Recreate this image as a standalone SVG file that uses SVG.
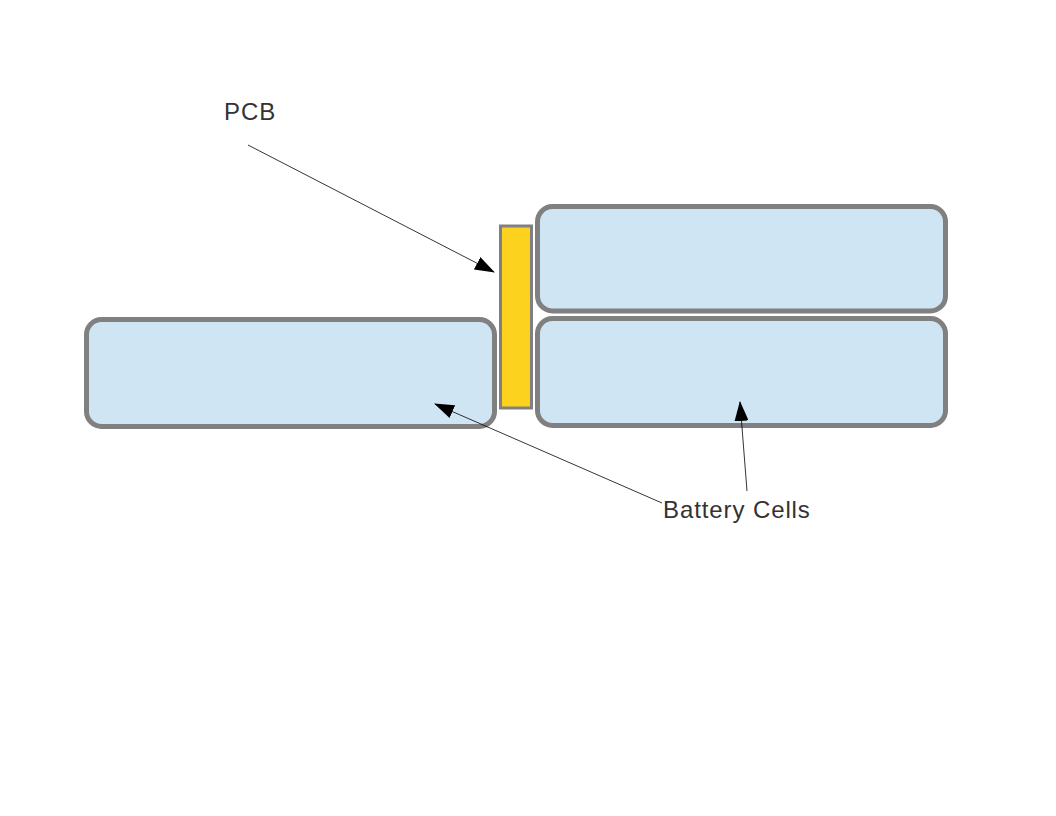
<svg xmlns="http://www.w3.org/2000/svg" width="1056" height="816" viewBox="0 0 1056 816">
<defs>
<style>
.cell{fill:#cfe5f3;stroke:#808080;stroke-width:5}
.pcb{fill:#fdd21f;stroke:#808080;stroke-width:3}
.ln{stroke:#000;stroke-width:0.8;fill:none}
.lbl{font-family:"Liberation Sans",Arial,sans-serif;font-size:24px;letter-spacing:0.9px;fill:#333}
</style>
<marker id="ah" markerWidth="20" markerHeight="14" refX="19" refY="7" orient="auto" markerUnits="userSpaceOnUse">
<path d="M0,0 L20,7 L0,14 Z" fill="#000"/>
</marker>
</defs>
<rect width="1056" height="816" fill="#fff"/>
<g id="cell-left"><rect class="cell" x="86.5" y="319.5" width="408" height="107" rx="15"/></g>
<g id="cell-top-right"><rect class="cell" x="537.5" y="206.5" width="408" height="104.5" rx="15"/></g>
<g id="cell-bottom-right"><rect class="cell" x="537.5" y="318.5" width="408" height="107" rx="15"/></g>
<g id="pcb"><rect class="pcb" x="500.5" y="226" width="31" height="182"/></g>
<g id="label-pcb"><text class="lbl" x="224" y="120">PCB</text></g>
<g id="label-cells"><text class="lbl" x="663" y="518">Battery Cells</text></g>
<g id="connectors">
<line class="ln" x1="248" y1="145" x2="494" y2="272" marker-end="url(#ah)"/>
<line class="ln" x1="662" y1="503" x2="435" y2="404" marker-end="url(#ah)"/>
<line class="ln" x1="747" y1="491" x2="740" y2="402" marker-end="url(#ah)"/>
</g>
</svg>
